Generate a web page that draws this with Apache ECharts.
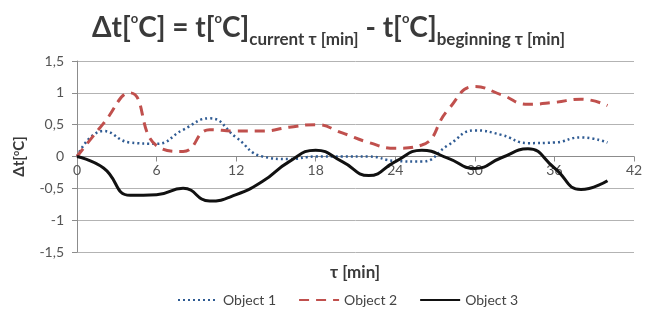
<!DOCTYPE html>
<html>
<head>
<meta charset="utf-8">
<script src="https://cdn.jsdelivr.net/npm/echarts@6/dist/echarts.min.js"></script>
<style>
  html, body { margin: 0; padding: 0; background: #fff; }
  #chart { width: 657px; height: 315px; }
</style>
</head>
<body>
<div id="chart"></div>
<script>
// time, min
const minutes = [0, 2, 4, 6, 8, 10, 12, 14, 16, 18, 20, 22, 24, 26, 28, 30, 32, 34, 36, 38, 40]
// delta t, degC
const object1 = [0, 0.4, 0.22, 0.2, 0.42, 0.6, 0.3, 0, -0.04, 0, 0, 0, -0.07, -0.08, 0.18, 0.41, 0.34, 0.21, 0.22, 0.3, 0.22]
const object2 = [0, 0.52, 1.0, 0.17, 0.08, 0.42, 0.4, 0.4, 0.46, 0.5, 0.37, 0.22, 0.13, 0.18, 0.74, 1.1, 0.97, 0.82, 0.85, 0.9, 0.8]
const object3 = [0, -0.18, -0.61, -0.6, -0.5, -0.7, -0.6, -0.39, -0.08, 0.1, -0.08, -0.3, -0.08, 0.1, -0.03, -0.19, -0.02, 0.12, -0.18, -0.52, -0.38]
const seriesNames = ['Object 1', 'Object 2', 'Object 3']

const font = 'Lato, "Open Sans", sans-serif'
const toPairs = arr => arr.map((v, i) => [minutes[i], v])

const chart = echarts.init(document.getElementById('chart'))
chart.setOption({
  animation: false,
  textStyle: { fontFamily: font },
  title: [
    {
      left: 'center',
      top: 3,
      text: '{b|Δt[}{sup|o}{b|C] = t[}{sup|o}{b|C]}{sub|current τ [min]}{b| - t[}{sup|o}{b|C]}{sub|beginning τ [min]}',
      textStyle: {
        rich: {
          b: { fontSize: 28, fontWeight: 'bold', color: '#3a3a3a', fontFamily: font, lineHeight: 40 },
          sup: { fontSize: 13, fontWeight: 'bold', color: '#3a3a3a', fontFamily: font, verticalAlign: 'top', padding: [4, 0, 0, 0] },
          sub: { fontSize: 17, fontWeight: 'bold', color: '#3a3a3a', fontFamily: font, verticalAlign: 'bottom' }
        }
      }
    },
    // x axis name, centred under the plot
    {
      left: 355,
      top: 264,
      textAlign: 'center',
      padding: 0,
      text: 'τ [min]',
      textStyle: { fontSize: 17, fontWeight: 'bold', color: '#3a3a3a', fontFamily: font }
    }
  ],
  grid: { left: 77, right: 23, top: 61, bottom: 63, outerBoundsMode: 'none', containLabel: false },
  legend: {
    bottom: 3,
    left: 172,
    itemWidth: 40,
    itemHeight: 10,
    itemGap: 22,
    itemStyle: { opacity: 0 },
    textStyle: { fontSize: 14, color: '#444', fontFamily: font },
    data: seriesNames
  },
  xAxis: {
    type: 'value',
    min: 0,
    max: 42,
    interval: 6,
    // axis sits on the zero line (plot height 191 px, zero halfway up)
    offset: -95.5,
    axisLine: { onZero: false, lineStyle: { color: '#8c8c8c', width: 1 } },
    axisTick: { show: true, length: 5, lineStyle: { color: '#8c8c8c' } },
    axisLabel: { fontSize: 14, color: '#555', margin: 7 },
    splitLine: { show: false }
  },
  yAxis: {
    type: 'value',
    min: -1.5,
    max: 1.5,
    interval: 0.5,
    name: '{b|Δt[}{sup|o}{b|C]}',
    nameLocation: 'middle',
    nameGap: 50,
    nameRotate: 90,
    nameTextStyle: {
      rich: {
        b: { fontSize: 15, fontWeight: 'bold', color: '#3a3a3a', fontFamily: font },
        sup: { fontSize: 9, fontWeight: 'bold', color: '#3a3a3a', fontFamily: font, verticalAlign: 'top' }
      }
    },
    axisLine: { show: true, lineStyle: { color: '#8c8c8c', width: 1 } },
    axisTick: { show: true, length: 5, lineStyle: { color: '#8c8c8c' } },
    axisLabel: {
      fontSize: 14,
      color: '#555',
      margin: 13,
      formatter: v => String(v).replace('.', ',')
    },
    splitLine: { show: true, lineStyle: { color: '#b3b3b3', width: 1 } }
  },
  series: [
    {
      name: seriesNames[0],
      type: 'line',
      smooth: 0.5,
      symbol: 'none',
      data: toPairs(object1),
      lineStyle: { color: '#2f5b93', width: 2.5, type: [2, 3] },
      itemStyle: { color: '#2f5b93' }
    },
    {
      name: seriesNames[1],
      type: 'line',
      smooth: 0.5,
      symbol: 'none',
      data: toPairs(object2),
      lineStyle: { color: '#c0504d', width: 3, type: [10, 7] },
      itemStyle: { color: '#c0504d' }
    },
    {
      name: seriesNames[2],
      type: 'line',
      smooth: 0.5,
      symbol: 'none',
      data: toPairs(object3),
      lineStyle: { color: '#111', width: 3 },
      itemStyle: { color: '#111' }
    }
  ]
})
</script>
</body>
</html>
